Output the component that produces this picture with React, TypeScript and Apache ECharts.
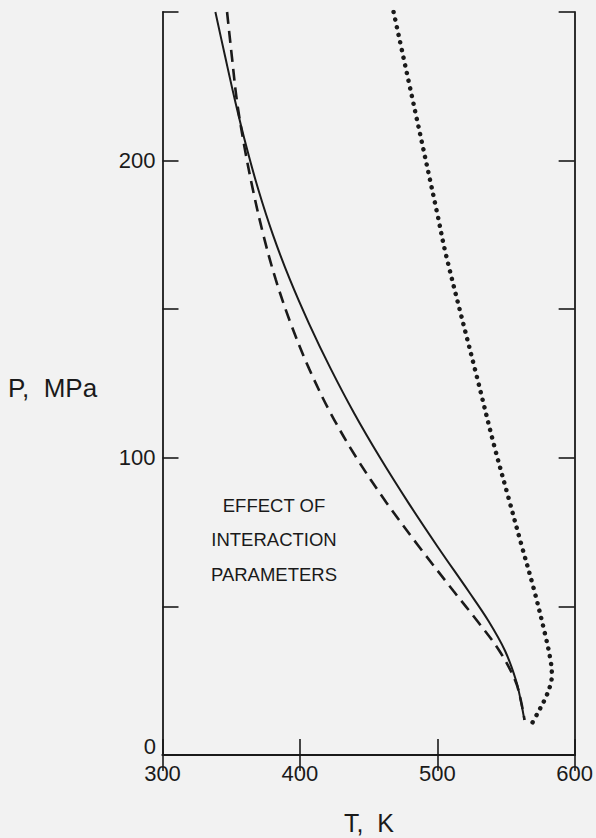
import React, { useEffect, useRef } from "react";
import * as echarts from "echarts";

// Tick values
const X_TICKS = [300, 400, 500, 600];
const Y_LABELS = [100, 200];

// Solid curve (T in K, P in MPa)
const SOLID_T = [338.5, 345.6, 352.9, 360.9, 369.9, 380.4, 392.7, 406.8, 422.4, 439.5, 458.4, 478.8, 500.4, 522.9, 537.4, 549.4, 557.4, 560.9, 563.4];
const SOLID_P = [250, 235, 220, 205, 190, 175, 160, 145, 130, 115, 100, 85, 70, 55, 45, 35, 25, 18, 11.8];

// Dashed curve
const DASH_T = [347.0, 350.5, 354.2, 359.5, 365.9, 373.4, 382.4, 393.5, 406.7, 422.4, 441.2, 462.9, 486.9, 512.1, 529.3, 545.3, 556.8, 561.0, 563.5];
const DASH_P = [250, 235, 220, 205, 190, 175, 160, 145, 130, 115, 100, 85, 70, 55, 45, 35, 25, 18, 11.8];

// Dotted curve
const DOT_T = [468.2, 484.0, 499.9, 506.4, 528.7, 541.3, 551.7, 561.1, 570.5, 578.8, 582.4, 583.4, 582.7, 579.1, 573.9, 568.3];
const DOT_P = [250.0, 216.4, 182.4, 168.2, 127.5, 104.3, 86.8, 71.0, 55.5, 40.0, 32.0, 27.3, 24.2, 19.5, 14.8, 10.1];

const ANNOTATION = ["EFFECT OF", "INTERACTION", "PARAMETERS"];

const FONT = "'Liberation Sans', Arial, sans-serif";
const INK = "#1a1a1a";

const zip = (a: number[], b: number[]) => a.map((v, i) => [v, b[i]]);

export default function App() {
  const ref = useRef<HTMLDivElement>(null);
  useEffect(() => {
    const chart = echarts.init(ref.current!, null, { renderer: "svg" });
    const axisLine = { show: true, lineStyle: { color: INK, width: 1.8 } };
    const axisTick = { show: true, inside: true, length: 16, lineStyle: { color: INK, width: 1.6 } };
    chart.setOption({
      animation: false,
      backgroundColor: "#f2f2f2",
      grid: { left: 162.5, right: 17, top: 12, bottom: 83, containLabel: false },
      xAxis: [
        {
          type: "value", min: 300, max: 600, interval: 100, position: "bottom",
          axisLine, axisTick, splitLine: { show: false },
          axisLabel: {
            color: INK, fontFamily: FONT, fontSize: 22, margin: 7,
            formatter: (v: number) => (X_TICKS.includes(v) ? String(v) : ""),
          },
        },
        {
          type: "value", min: 300, max: 600, interval: 100, position: "top",
          axisLine, axisTick, splitLine: { show: false }, axisLabel: { show: false },
        },
      ],
      yAxis: [
        {
          type: "value", min: 0, max: 250, interval: 50, position: "left",
          axisLine, axisTick, splitLine: { show: false },
          axisLabel: {
            color: INK, fontFamily: FONT, fontSize: 22, margin: 7,
            formatter: (v: number) => (Y_LABELS.includes(v) ? String(v) : ""),
          },
        },
        {
          type: "value", min: 0, max: 250, interval: 50, position: "right",
          axisLine, axisTick, splitLine: { show: false }, axisLabel: { show: false },
        },
      ],
      series: [
        {
          type: "line", data: zip(SOLID_T, SOLID_P), smooth: 0.35, symbol: "none",
          lineStyle: { color: INK, width: 2 }, clip: true,
        },
        {
          type: "line", data: zip(DASH_T, DASH_P), smooth: 0.35, symbol: "none",
          lineStyle: { color: INK, width: 2.6, type: [12, 7] }, clip: true,
        },
        {
          type: "line", data: zip(DOT_T, DOT_P), smooth: 0.35, symbol: "none",
          lineStyle: { color: INK, width: 4.5, type: [0.1, 7.7], cap: "round" }, clip: true,
        },
      ],
      graphic: [
        {
          type: "text", x: 156, y: 746,
          style: { text: "0", font: `22px ${FONT}`, fill: INK, align: "right", verticalAlign: "middle" },
        },
        {
          type: "text", left: 8, top: 375,
          style: { text: "P,  MPa", font: `26px ${FONT}`, fill: INK },
        },
        {
          type: "text", x: 369, y: 823,
          style: { text: "T,  K", font: `25px ${FONT}`, fill: INK, align: "center", verticalAlign: "middle" },
        },
        ...ANNOTATION.map((t, i) => ({
          type: "text", x: 274, y: 505 + i * 34.5,
          style: { text: t, font: `18.5px ${FONT}`, fill: INK, align: "center", verticalAlign: "middle" },
        })),
      ],
    });
    return () => chart.dispose();
  }, []);
  return (
    <div style={{ position: "fixed", left: 0, top: 0, width: 596, height: 838, background: "#f2f2f2" }}>
      <div ref={ref} style={{ width: 596, height: 838 }} />
    </div>
  );
}
